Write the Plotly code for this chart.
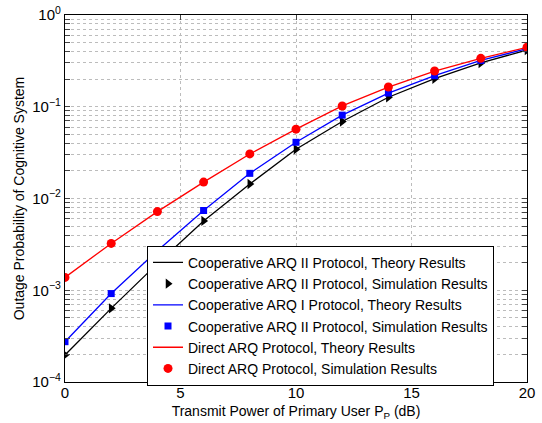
import plotly.graph_objects as go

x = [0, 2, 4, 6, 8, 10, 12, 14, 16, 18, 20]
coop2_theory = [1.97e-4, 6.35e-4, 1.95e-3, 5.7e-3, 0.0144, 0.0344, 0.069, 0.127, 0.202, 0.30, 0.416]
coop2_sim = [1.97e-4, 6.35e-4, 1.95e-3, 5.7e-3, 0.0144, 0.0344, 0.069, 0.127, 0.202, 0.30, 0.416]
coop1_theory = [2.75e-4, 9.2e-4, 2.7e-3, 7.4e-3, 0.0188, 0.041, 0.081, 0.141, 0.218, 0.32, 0.43]
coop1_sim = [2.75e-4, 9.2e-4, 2.7e-3, 7.4e-3, 0.0188, 0.041, 0.081, 0.141, 0.218, 0.32, 0.43]
direct_theory = [1.38e-3, 3.24e-3, 7.2e-3, 0.0151, 0.0306, 0.057, 0.102, 0.164, 0.245, 0.337, 0.445]
direct_sim = [1.38e-3, 3.24e-3, 7.2e-3, 0.0151, 0.0306, 0.057, 0.102, 0.164, 0.245, 0.337, 0.445]

names = [
    "Cooperative ARQ II Protocol, Theory Results",
    "Cooperative ARQ II Protocol, Simulation Results",
    "Cooperative ARQ I Protocol, Theory Results",
    "Cooperative ARQ II Protocol, Simulation Results",
    "Direct ARQ Protocol, Theory Results",
    "Direct ARQ Protocol, Simulation Results",
]

x_ticks = [0, 5, 10, 15, 20]
decades = [-4, -3, -2, -1, 0]

fig = go.Figure()
fig.add_trace(go.Scatter(x=x, y=coop2_theory, mode="lines", name=names[0],
                         line=dict(color="black", width=1.3)))
fig.add_trace(go.Scatter(x=x, y=coop2_sim, mode="markers", name=names[1],
                         marker=dict(symbol="triangle-right", color="black", size=9)))
fig.add_trace(go.Scatter(x=x, y=coop1_theory, mode="lines", name=names[2],
                         line=dict(color="blue", width=1.3)))
fig.add_trace(go.Scatter(x=x, y=coop1_sim, mode="markers", name=names[3],
                         marker=dict(symbol="square", color="blue", size=7)))
fig.add_trace(go.Scatter(x=x, y=direct_theory, mode="lines", name=names[4],
                         line=dict(color="red", width=1.3)))
fig.add_trace(go.Scatter(x=x, y=direct_sim, mode="markers", name=names[5],
                         marker=dict(symbol="circle", color="red", size=9)))

tickvals = []
ticktext = []
for d in decades:
    if d == 0:
        tickvals.append(1.0)
        ticktext.append("10<sup>0</sup>")
        break
    for m in range(1, 10):
        tickvals.append(m * 10.0 ** d)
        if m == 1:
            ticktext.append("10<sup>\u2212%d</sup>" % (-d))
        else:
            ticktext.append("")

fig.update_layout(
    width=542, height=423,
    margin=dict(l=65, r=15, t=15, b=41),
    paper_bgcolor="white", plot_bgcolor="white",
    font=dict(family="Liberation Sans, Arial, sans-serif", size=14, color="black"),
    showlegend=True,
    legend=dict(x=0.1775, y=0.371, xanchor="left", yanchor="top",
                bgcolor="white", bordercolor="black", borderwidth=1,
                font=dict(size=14), tracegroupgap=0, itemwidth=30),
)
fig.update_xaxes(
    range=[0, 20], tickvals=x_ticks, ticks="inside", ticklen=5, mirror="ticks",
    showline=True, linecolor="black", linewidth=1.2, automargin=False,
    showgrid=True, gridcolor="#bcbcbc", griddash="dot", gridwidth=1,
    zeroline=False, tickfont=dict(size=15), ticklabelstandoff=-3,
    title=dict(text="Transmit Power of Primary User P<sub>P</sub> (dB)", font=dict(size=14), standoff=6),
)
fig.update_yaxes(
    type="log", range=[-4, 0], tickvals=tickvals, ticktext=ticktext,
    ticks="inside", ticklen=5, mirror="ticks", automargin=False,
    showline=True, linecolor="black", linewidth=1.2,
    showgrid=True, gridcolor="#bcbcbc", griddash="dot", gridwidth=1,
    zeroline=False, tickfont=dict(size=15),
    title=dict(text="Outage Probability of Cognitive System", font=dict(size=14), standoff=4),
)

# remove the browser's default 8px body margin so the figure fills the window
fig.write_html("out.html", config={"displayModeBar": False},
               post_script="document.body.style.margin='0';")
